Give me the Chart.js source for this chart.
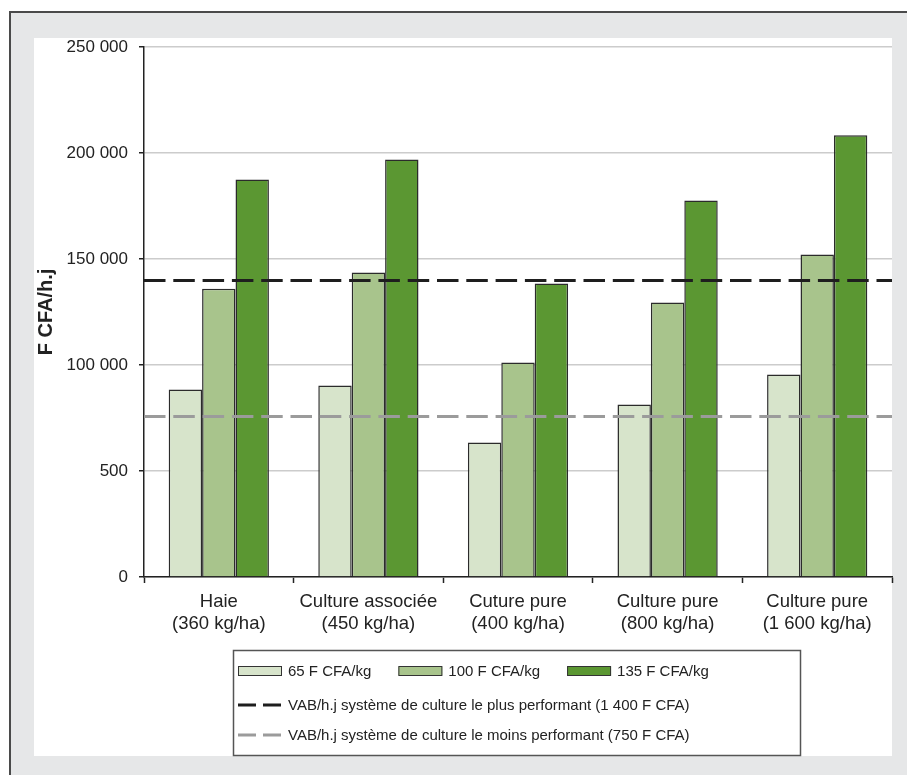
<!DOCTYPE html>
<html>
<head>
<meta charset="utf-8">
<script src="https://cdn.jsdelivr.net/npm/chart.js@4/dist/chart.umd.min.js"></script>
<style>
  html, body { margin: 0; padding: 0; background: #fff; }
  #wrap { width: 907px; height: 775px; }
</style>
</head>
<body>
<div id="wrap"><canvas id="c" width="907" height="775"></canvas></div>
<script>
// Production systems (two-line axis labels)
const categories = [
  ["Haie", "(360 kg/ha)"],
  ["Culture associée", "(450 kg/ha)"],
  ["Cuture pure", "(400 kg/ha)"],
  ["Culture pure", "(800 kg/ha)"],
  ["Culture pure", "(1 600 kg/ha)"]
];

// Value added per man-day for three selling prices
const seriesNames = ["65 F CFA/kg", "100 F CFA/kg", "135 F CFA/kg"];
const price65  = [88500, 90300, 63400, 81400, 95500];
const price100 = [136000, 143600, 101200, 129500, 152100];
const price135 = [187500, 196900, 138400, 177600, 208400];

// Reference levels of the best and worst cropping systems
const refNames = [
  "VAB/h.j système de culture le plus performant (1 400 F CFA)",
  "VAB/h.j système de culture le moins performant (750 F CFA)"
];
const refValues = [140000, 76000];
const refColors = ["#1e1e1e", "#9b9b9b"];

// Vertical axis tick labels as printed
const yTickLabels = ["0", "500", "100 000", "150 000", "200 000", "250 000"];

const FONT = "'Liberation Sans', Arial, Helvetica, sans-serif";
const INK = "#222222";

// Grey frame and white panel behind the chart
const framePlugin = {
  id: "frame",
  beforeDraw(chart) {
    const ctx = chart.ctx;
    const W = chart.width, H = chart.height;
    ctx.save();
    ctx.fillStyle = "#ffffff";
    ctx.fillRect(0, 0, W, H);
    ctx.fillStyle = "#e6e7e8";
    ctx.fillRect(10, 12, W - 10, H - 12);
    ctx.strokeStyle = "#4a4a4a";
    ctx.lineWidth = 2;
    ctx.beginPath();
    ctx.moveTo(10, H);
    ctx.lineTo(10, 12);
    ctx.lineTo(W, 12);
    ctx.stroke();
    ctx.fillStyle = "#ffffff";
    ctx.fillRect(34, 38, 858, 718);
    ctx.restore();
  }
};

// Horizontal dashed reference lines across the whole plot, placed with the y scale
const refLinesPlugin = {
  id: "refLines",
  afterDatasetsDraw(chart) {
    const ctx = chart.ctx;
    const area = chart.chartArea;
    const y = chart.scales.y;
    ctx.save();
    ctx.lineWidth = 3;
    ctx.setLineDash([21.5, 7.8]);
    refValues.forEach((v, i) => {
      const py = Math.round(y.getPixelForValue(v)) + 0.5;
      ctx.strokeStyle = refColors[i];
      ctx.beginPath();
      ctx.moveTo(area.left, py);
      ctx.lineTo(area.right, py);
      ctx.stroke();
    });
    ctx.restore();
  }
};

// Boxed legend: three price swatches on the first row, one reference line per row below
const boxLegendPlugin = {
  id: "boxLegend",
  afterDraw(chart) {
    const ctx = chart.ctx;
    const ds = chart.data.datasets;
    const items = ds.map(d => ({ kind: "bar", label: d.label, color: d.backgroundColor }))
      .concat(refNames.map((n, i) => ({ kind: "line", label: n, color: refColors[i] })));
    const rows = [[0, 1, 2], [3], [4]];
    const rowY = [671, 705, 735];
    ctx.save();
    ctx.strokeStyle = "#555555";
    ctx.lineWidth = 1.5;
    ctx.strokeRect(233.5, 650.5, 567, 105);
    ctx.font = "15px " + FONT;
    ctx.textBaseline = "middle";
    rows.forEach((row, r) => {
      let x = 238;
      const y = rowY[r];
      row.forEach(i => {
        const it = items[i];
        if (it.kind === "line") {
          ctx.save();
          ctx.strokeStyle = it.color;
          ctx.lineWidth = 3;
          ctx.setLineDash([18, 7]);
          ctx.beginPath();
          ctx.moveTo(x, y);
          ctx.lineTo(x + 44, y);
          ctx.stroke();
          ctx.restore();
        } else {
          ctx.fillStyle = it.color;
          ctx.fillRect(x, y - 4.5, 44, 9);
          ctx.strokeStyle = "#333333";
          ctx.lineWidth = 1;
          ctx.strokeRect(x + 0.5, y - 4.5, 43, 9);
        }
        ctx.fillStyle = INK;
        ctx.fillText(it.label, x + 50, y + 1);
        x += 50 + ctx.measureText(it.label).width + 27;
      });
    });
    ctx.restore();
  }
};

const barStyle = {
  borderColor: "#2b2b2b",
  borderWidth: 1.5,
  categoryPercentage: 0.67,
  barPercentage: 1
};

new Chart(document.getElementById("c"), {
  type: "bar",
  data: {
    labels: categories,
    datasets: [
      Object.assign({ label: seriesNames[0], data: price65,  backgroundColor: "#d7e4cb" }, barStyle),
      Object.assign({ label: seriesNames[1], data: price100, backgroundColor: "#a8c48c" }, barStyle),
      Object.assign({ label: seriesNames[2], data: price135, backgroundColor: "#5b9732" }, barStyle)
    ]
  },
  options: {
    responsive: false,
    devicePixelRatio: 1,
    animation: false,
    layout: { padding: { left: 34, top: 47, right: 15, bottom: 138 } },
    plugins: {
      legend: { display: false },
      tooltip: { enabled: false }
    },
    scales: {
      x: {
        type: "category",
        offset: true,
        grid: {
          offset: true,
          drawOnChartArea: false,
          drawTicks: true,
          tickLength: 6,
          tickColor: INK,
          tickWidth: 1.5
        },
        border: { color: INK, width: 1.5 },
        ticks: {
          color: INK,
          font: { family: FONT, size: 18.5, lineHeight: 1.2 },
          padding: 8,
          maxRotation: 0,
          autoSkip: false
        },
        afterFit(s) { s.height = 60; }
      },
      y: {
        min: 0,
        max: 250000,
        ticks: {
          stepSize: 50000,
          color: INK,
          font: { family: FONT, size: 17 },
          padding: 11,
          callback: (v, i) => yTickLabels[i]
        },
        grid: {
          color: "#cccccc",
          lineWidth: 1.5,
          tickColor: INK,
          tickLength: 5,
          tickWidth: 1.5
        },
        border: { color: INK, width: 1.5 },
        title: {
          display: true,
          text: "F CFA/h.j",
          color: INK,
          font: { family: FONT, size: 20, weight: "bold" },
          padding: { top: 0, bottom: 0 }
        },
        afterFit(s) { s.width = 110; }
      }
    }
  },
  plugins: [framePlugin, refLinesPlugin, boxLegendPlugin]
});
</script>
</body>
</html>
